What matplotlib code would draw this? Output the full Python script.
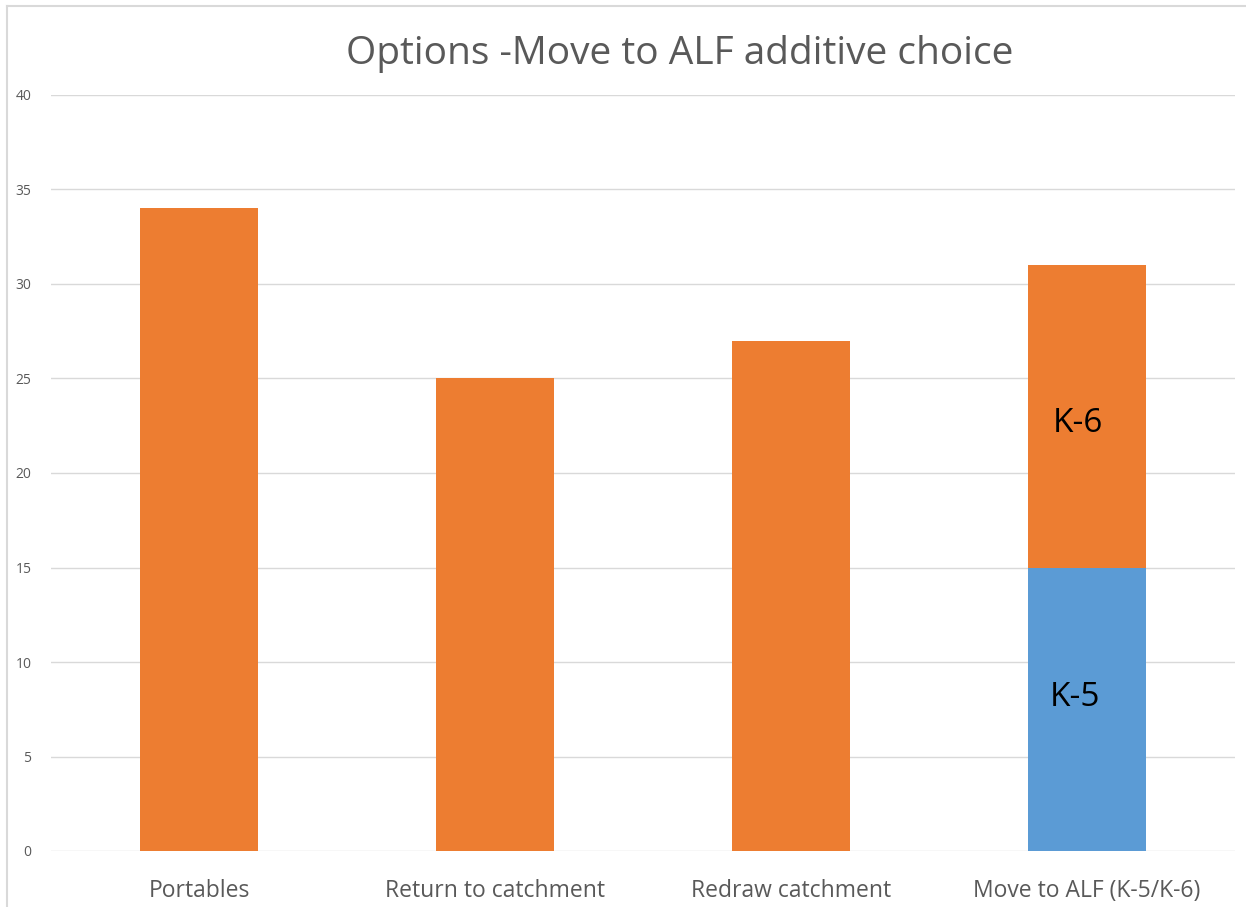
import matplotlib.pyplot as plt
from matplotlib.lines import Line2D

categories = ["Portables", "Return to catchment", "Redraw catchment", "Move to ALF (K-5/K-6)"]
k5_values = [0, 0, 0, 15]
k6_values = [34, 25, 27, 16]
segment_labels = {3: ("K-5", "K-6")}
yticks = [0, 5, 10, 15, 20, 25, 30, 35, 40]

ORANGE = "#ed7d31"
BLUE = "#5b9bd5"
GRAY_TEXT = "#595959"
GRID = "#d9d9d9"

plt.rcParams["font.family"] = ["Open Sans", "DejaVu Sans"]

W, H = 1246, 907
fig = plt.figure(figsize=(W / 100, H / 100), dpi=100)
ax = fig.add_axes((51 / W, (H - 851) / H, (1235 - 51) / W, (851 - 95) / H))

x = range(len(categories))
ax.bar(x, k5_values, width=0.4, color=BLUE, zorder=3)
ax.bar(x, k6_values, width=0.4, bottom=k5_values, color=ORANGE, zorder=3)

for i, (lo, hi) in segment_labels.items():
    ax.text(i - 0.04, k5_values[i] * 0.54, lo, ha="center", va="center", fontsize=24, color="black", zorder=4)
    ax.text(i - 0.03, k5_values[i] + k6_values[i] * 0.475, hi, ha="center", va="center", fontsize=24,
            color="black", zorder=4)

ax.set_xlim(-0.5, 3.5)
ax.set_ylim(0, 40)
ax.set_yticks(yticks)
ax.set_xticks(list(x))
ax.set_xticklabels(categories, fontsize=16.5, color=GRAY_TEXT)
ax.tick_params(axis="y", labelsize=10, labelcolor=GRAY_TEXT, length=0, pad=14)
ax.tick_params(axis="x", length=0, pad=20)
ax.grid(axis="y", color=GRID, linewidth=1, zorder=0)
for s in ax.spines.values():
    s.set_visible(False)

fig.text(680 / W, 1 - 54 / H, "Options -Move to ALF additive choice", ha="center", va="center",
         fontsize=28, color=GRAY_TEXT)

# chart frame
fig.add_artist(Line2D([7 / W, 7 / W], [0, 1 - 6 / H], color=GRID, linewidth=1.5))
fig.add_artist(Line2D([7 / W, 1], [1 - 6 / H, 1 - 6 / H], color=GRID, linewidth=1.5))

fig.savefig("out.png", dpi=100)
